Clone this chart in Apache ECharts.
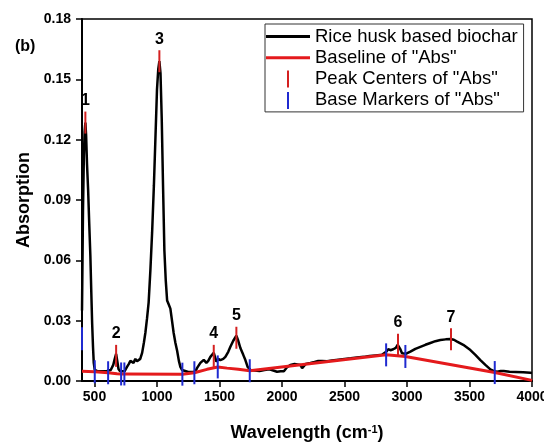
<!DOCTYPE html>
<html>
<head>
<meta charset="utf-8">
<script src="https://cdn.jsdelivr.net/npm/echarts@6/dist/echarts.min.js"></script>
<style>
  html, body { margin: 0; padding: 0; background: #fff; }
  #main { width: 544px; height: 442px; }
</style>
</head>
<body>
<div id="main"></div>
<script>
// spectrum (wavenumber, absorption)
var wavenumber = [400, 408, 415, 421, 427, 433, 440, 449, 458, 467, 474, 481, 488, 494, 502, 520, 560, 600, 630, 650, 662, 673, 682, 692, 705, 721, 740, 760, 775, 787, 800, 812, 827, 840, 851, 866, 881, 895, 907, 920, 933, 947, 961, 975, 987, 1000, 1010, 1019, 1028, 1038, 1048, 1059, 1070, 1081, 1094, 1107, 1120, 1133, 1147, 1161, 1175, 1187, 1200, 1213, 1250, 1290, 1307, 1321, 1347, 1374, 1395, 1410, 1427, 1454, 1475, 1490, 1507, 1530, 1547, 1570, 1587, 1610, 1635, 1650, 1667, 1690, 1707, 1725, 1747, 1780, 1820, 1860, 1900, 1930, 1960, 1990, 2015, 2040, 2067, 2100, 2147, 2161, 2190, 2227, 2260, 2290, 2321, 2360, 2400, 2450, 2500, 2550, 2600, 2654, 2700, 2750, 2800, 2833, 2850, 2867, 2890, 2910, 2926, 2945, 2960, 2974, 2990, 3027, 3067, 3107, 3147, 3187, 3227, 3267, 3310, 3347, 3375, 3401, 3450, 3507, 3547, 3587, 3627, 3667, 3700, 3721, 3750, 3774, 3820, 3870, 3930, 3987, 4000];
var absorption = [0.035, 0.085, 0.112, 0.124, 0.1285, 0.122, 0.108, 0.095, 0.078, 0.062, 0.045, 0.029, 0.017, 0.009, 0.0055, 0.005, 0.0048, 0.005, 0.0055, 0.008, 0.011, 0.0135, 0.010, 0.006, 0.0048, 0.0045, 0.0048, 0.007, 0.0085, 0.010, 0.0095, 0.009, 0.011, 0.0098, 0.009, 0.011, 0.014, 0.019, 0.024, 0.031, 0.039, 0.055, 0.074, 0.097, 0.120, 0.145, 0.155, 0.159, 0.153, 0.130, 0.098, 0.065, 0.050, 0.040, 0.038, 0.036, 0.030, 0.024, 0.019, 0.015, 0.010, 0.007, 0.0055, 0.005, 0.0045, 0.0045, 0.0048, 0.0065, 0.009, 0.0105, 0.009, 0.010, 0.012, 0.014, 0.0096, 0.011, 0.0104, 0.011, 0.012, 0.0145, 0.017, 0.020, 0.0225, 0.020, 0.0164, 0.013, 0.0104, 0.007, 0.0055, 0.0052, 0.005, 0.0055, 0.0058, 0.0052, 0.0046, 0.0048, 0.0048, 0.0068, 0.008, 0.0085, 0.008, 0.0064, 0.0085, 0.009, 0.0095, 0.010, 0.010, 0.0098, 0.0102, 0.0106, 0.011, 0.0113, 0.0117, 0.012, 0.0124, 0.0127, 0.013, 0.0145, 0.0158, 0.0153, 0.0158, 0.0165, 0.018, 0.016, 0.0138, 0.013, 0.0135, 0.0146, 0.016, 0.017, 0.018, 0.0189, 0.0198, 0.0204, 0.0207, 0.0209, 0.0205, 0.0196, 0.018, 0.0154, 0.013, 0.0104, 0.008, 0.0058, 0.0048, 0.0046, 0.005, 0.005, 0.0046, 0.0045, 0.0043, 0.0041, 0.004];

// baseline
var baseX = [400, 502, 609, 680, 713, 739, 1203, 1299, 1400, 1486, 1560, 1650, 1742, 2833, 2987, 3702, 4000];
var baseY = [0.0048, 0.0046, 0.0041, 0.0036, 0.0035, 0.0035, 0.0034, 0.0041, 0.0058, 0.0070, 0.0064, 0.0058, 0.0051, 0.013, 0.0122, 0.0042, 0.0003];

// peak centers
var peakX = [427, 673, 1019, 1454, 1635, 2928, 3352];
var peakY = [0.1285, 0.0125, 0.159, 0.0125, 0.0215, 0.018, 0.0208];
var peakNames = ['1', '2', '3', '4', '5', '6', '7'];

// base markers
var markX = [400, 502, 609, 713, 739, 1203, 1299, 1486, 1742, 2833, 2987, 3702];
var markY = [0.021, 0.0046, 0.0041, 0.0035, 0.0035, 0.0034, 0.0041, 0.0070, 0.0051, 0.013, 0.0122, 0.0042];

var xTicks = [500, 1000, 1500, 2000, 2500, 3000, 3500, 4000];

function zip(a, b) {
    return a.map(function (v, i) { return [v, b[i]]; });
}

var myChart = echarts.init(document.getElementById('main'));
var font = 'Liberation Sans, Arial, sans-serif';

var option = {
    animation: false,
    textStyle: { fontFamily: font },
    grid: {
        left: 82, right: 12, top: 19, bottom: 61,
        outerBoundsMode: 'none',
        show: true, borderColor: '#000', borderWidth: 1.5
    },
    graphic: [{
        type: 'text', left: 15, top: 39,
        style: { text: '(b)', font: 'bold 16px ' + font, fill: '#000' }
    }],
    legend: {
        left: 265, top: 24,
        orient: 'vertical',
        itemWidth: 44, itemHeight: 17, itemGap: 2.3, itemTextGap: 8,
        padding: [3, 6, 2, 1],
        borderColor: '#333', borderWidth: 1,
        textStyle: { fontSize: 18.5, color: '#000', fontFamily: font },
        data: [
            { name: 'Rice husk based biochar', icon: 'path://M0,0H44V3H0Z' },
            { name: 'Baseline of "Abs"', icon: 'path://M0,0H44V3H0Z' },
            { name: 'Peak Centers of "Abs"', icon: 'path://M0,0H2V17H0Z' },
            { name: 'Base Markers of "Abs"', icon: 'path://M0,0H2V17H0Z' }
        ]
    },
    xAxis: {
        type: 'value', min: 400, max: 4000,
        name: 'Wavelength (cm{sup|-1})',
        nameLocation: 'middle', nameGap: 43,
        nameTextStyle: {
            fontSize: 18, fontWeight: 'bold', color: '#000',
            rich: { sup: { fontSize: 11, fontWeight: 'bold', color: '#000', verticalAlign: 'top', padding: [0, 0, 8, 0] } }
        },
        axisLine: { onZero: false, lineStyle: { color: '#000', width: 2 } },
        axisTick: { show: true, length: 6, customValues: xTicks, lineStyle: { color: '#000', width: 1.5 } },
        axisLabel: {
            customValues: xTicks, fontSize: 14, fontWeight: 'bold', color: '#000', margin: 9,
            hideOverlap: false,
            formatter: function (v) { return String(v); }
        },
        splitLine: { show: false }
    },
    yAxis: {
        type: 'value', min: 0, max: 0.18, interval: 0.03,
        name: 'Absorption',
        nameLocation: 'middle', nameGap: 41,
        nameTextStyle: { fontSize: 18, fontWeight: 'bold', color: '#000' },
        axisLine: { show: true, lineStyle: { color: '#000', width: 2 } },
        axisTick: { show: true, length: 6, lineStyle: { color: '#000', width: 1.5 } },
        axisLabel: {
            fontSize: 14, fontWeight: 'bold', color: '#000', margin: 11,
            formatter: function (v) { return v.toFixed(2); }
        },
        splitLine: { show: false }
    },
    series: [
        {
            name: 'Rice husk based biochar',
            type: 'line',
            data: zip(wavenumber, absorption),
            showSymbol: false, symbol: 'none',
            color: '#000',
            lineStyle: { color: '#000', width: 2.5 },
            z: 2
        },
        {
            name: 'Baseline of "Abs"',
            type: 'line',
            data: zip(baseX, baseY),
            showSymbol: false, symbol: 'none',
            color: '#e41a1c',
            lineStyle: { color: '#e41a1c', width: 3 },
            z: 3
        },
        {
            name: 'Peak Centers of "Abs"',
            type: 'scatter',
            data: zip(peakX, peakY),
            symbol: 'rect', symbolSize: [2, 22],
            color: '#d42020',
            itemStyle: { color: '#d42020', opacity: 1 },
            label: {
                show: true, position: 'top', distance: 3,
                fontSize: 16, fontWeight: 'bold', color: '#000', opacity: 1,
                formatter: function (p) { return peakNames[p.dataIndex]; }
            },
            z: 4
        },
        {
            name: 'Base Markers of "Abs"',
            type: 'scatter',
            data: zip(markX, markY),
            symbol: 'rect', symbolSize: [2, 23],
            color: '#1f2ad0',
            itemStyle: { color: '#1f2ad0', opacity: 1 },
            z: 5
        }
    ]
};

myChart.setOption(option);
</script>
</body>
</html>
